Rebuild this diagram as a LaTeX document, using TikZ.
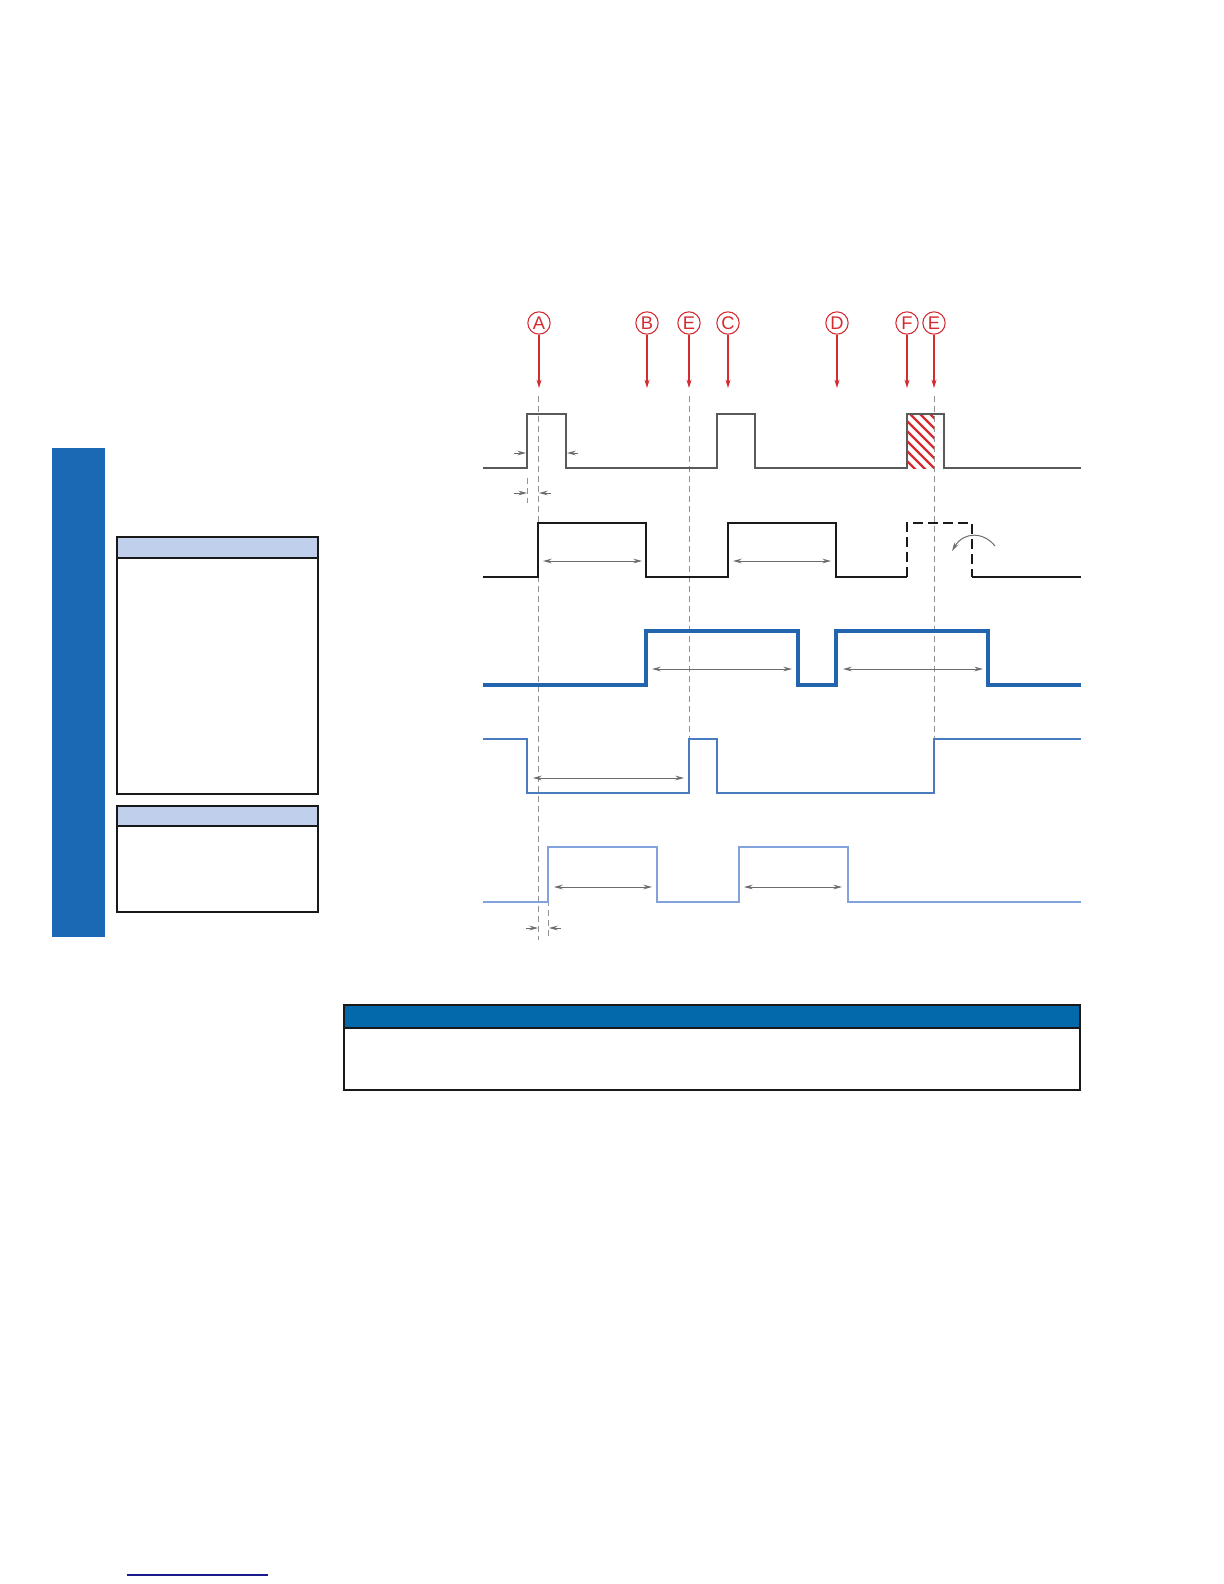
\documentclass[tikz,border=0pt]{standalone}
\usepackage{fontspec}
\setsansfont{Liberation Sans}
\usepackage{xcolor}
\usetikzlibrary{arrows.meta, positioning, calc}

\definecolor{markred}{HTML}{D42A30}
\definecolor{sigone}{HTML}{5A5A5A}
\definecolor{sigtwo}{HTML}{1A1A1A}
\definecolor{sigthree}{HTML}{2264AE}
\definecolor{sigfour}{HTML}{4A7BBF}
\definecolor{sigfive}{HTML}{82A2DC}
\definecolor{barblue}{HTML}{1B68B5}
\definecolor{headlight}{HTML}{BFCFEC}
\definecolor{headdark}{HTML}{0369AA}
\definecolor{rulenavy}{HTML}{1A1A8C}

\begin{document}
\begin{tikzpicture}[
    x=0.6pt, y=-0.6pt,
    >=Stealth,
    marker/.style={circle, draw=markred, line width=0.65pt, text=markred,
        minimum size=13.4pt, inner sep=0pt, font=\sffamily\fontsize{11}{12}\selectfont},
    markarrow/.style={-{Stealth[length=5pt, width=3pt]}, markred, line width=0.7pt},
    guide/.style={gray!85, line width=0.6pt, dash pattern=on 3.6pt off 2.4pt},
    dimarrow/.style={{Stealth[length=5.2pt, width=2.8pt]}-{Stealth[length=5.2pt, width=2.8pt]}, gray!85!black, line width=0.6pt},
    tick/.style={-{Stealth[length=5.2pt, width=2.8pt]}, gray!85!black, line width=0.6pt},
    panel/.style={draw=black!90, line width=0.7pt},
    sigline/.style={line width=#1, line join=miter},
]
\useasboundingbox (0,0) rectangle (1224,1584);

% ==================== LEFT PANEL ====================
\fill[barblue] (52,448) rectangle (105,937);
\fill[headlight] (117,537) rectangle (318,558);
\draw[panel] (117,537) rectangle (318,794);
\draw[panel] (117,558) -- (318,558);
\fill[headlight] (117,806) rectangle (318,826);
\draw[panel] (117,806) rectangle (318,912);
\draw[panel] (117,826) -- (318,826);

% ==================== EVENT MARKERS ====================
\node[marker] (A)  at (539,323) {A};
\node[marker] (B)  at (647,323) {B};
\node[marker] (E1) at (689,323) {E};
\node[marker] (C)  at (728,323) {C};
\node[marker] (D)  at (837,323) {D};
\node[marker] (F)  at (907,323) {F};
\node[marker] (E2) at (934,323) {E};
\draw[markarrow] (A)  -- (A  |- 0,388);
\draw[markarrow] (B)  -- (B  |- 0,388);
\draw[markarrow] (E1) -- (E1 |- 0,388);
\draw[markarrow] (C)  -- (C  |- 0,388);
\draw[markarrow] (D)  -- (D  |- 0,388);
\draw[markarrow] (F)  -- (F  |- 0,388);
\draw[markarrow] (E2) -- (E2 |- 0,388);

% guide lines
\draw[guide] (538.5,396) -- (538.5,940);
\draw[guide] (689,396) -- (689,739);
\draw[guide] (934,396) -- (934,739);
\draw[guide] (527,478) -- (527,503);
\draw[guide] (548,900) -- (548,940);

% ==================== SIGNAL 1 ====================
\begin{scope}
\clip (907,414) rectangle (934,468);
\foreach \k in {0,...,12}
  \draw[markred, line width=1.3pt] (826+10*\k,400) -- ++(80,80);
\end{scope}
\draw[sigone, sigline=1.7pt] (483,468) -- (527,468) -- (527,414) -- (566,414) -- (566,468)
  -- (717,468) -- (717,414) -- (755,414) -- (755,468) -- (907,468) -- (907,414)
  -- (944,414) -- (944,468) -- (1081,468);
\draw[tick] (514,453) -- (526,453);
\draw[tick] (578,453) -- (567,453);
\draw[tick] (514,493) -- (527,493);
\draw[tick] (551,493) -- (539,493);

% ==================== SIGNAL 2 ====================
\draw[sigtwo, sigline=1.7pt] (483,577) -- (538,577) -- (538,523) -- (646,523) -- (646,577)
  -- (728,577) -- (728,523) -- (836,523) -- (836,577) -- (907,577);
\draw[sigtwo, sigline=1.7pt, dash pattern=on 6pt off 3pt] (907,577) -- (907,523) -- (972,523) -- (972,577);
\draw[sigtwo, sigline=1.7pt] (972,577) -- (1081,577);
\draw[dimarrow] (543,561) -- (642,561);
\draw[dimarrow] (733,561) -- (831,561);
\draw[tick] (995,546) .. controls (984,532) and (964,531) .. (952,551);

% ==================== SIGNAL 3 ====================
\draw[sigthree, sigline=2pt] (483,685) -- (646,685) -- (646,631) -- (798,631) -- (798,685)
  -- (836,685) -- (836,631) -- (988,631) -- (988,685) -- (1081,685);
\draw[dimarrow] (652,669) -- (792,669);
\draw[dimarrow] (843,669) -- (983,669);

% ==================== SIGNAL 4 ====================
\draw[sigfour, sigline=1.6pt] (483,739) -- (527,739) -- (527,793) -- (689,793) -- (689,739)
  -- (717,739) -- (717,793) -- (934,793) -- (934,739) -- (1081,739);
\draw[dimarrow] (533,778) -- (684,778);

% ==================== SIGNAL 5 ====================
\draw[sigfive, sigline=1.6pt] (483,902) -- (548,902) -- (548,847) -- (657,847) -- (657,902)
  -- (739,902) -- (739,847) -- (848,847) -- (848,902) -- (1081,902);
\draw[dimarrow] (554,887) -- (652,887);
\draw[dimarrow] (744,887) -- (842,887);
\draw[tick] (526,928) -- (538,928);
\draw[tick] (561,928) -- (549,928);

% ==================== BOTTOM BOX ====================
\fill[headdark] (344,1005) rectangle (1080,1028);
\draw[panel] (344,1005) rectangle (1080,1090);
\draw[panel] (344,1028) -- (1080,1028);

\draw[rulenavy, line width=0.7pt] (127,1575) -- (268,1575);

\end{tikzpicture}
\end{document}
